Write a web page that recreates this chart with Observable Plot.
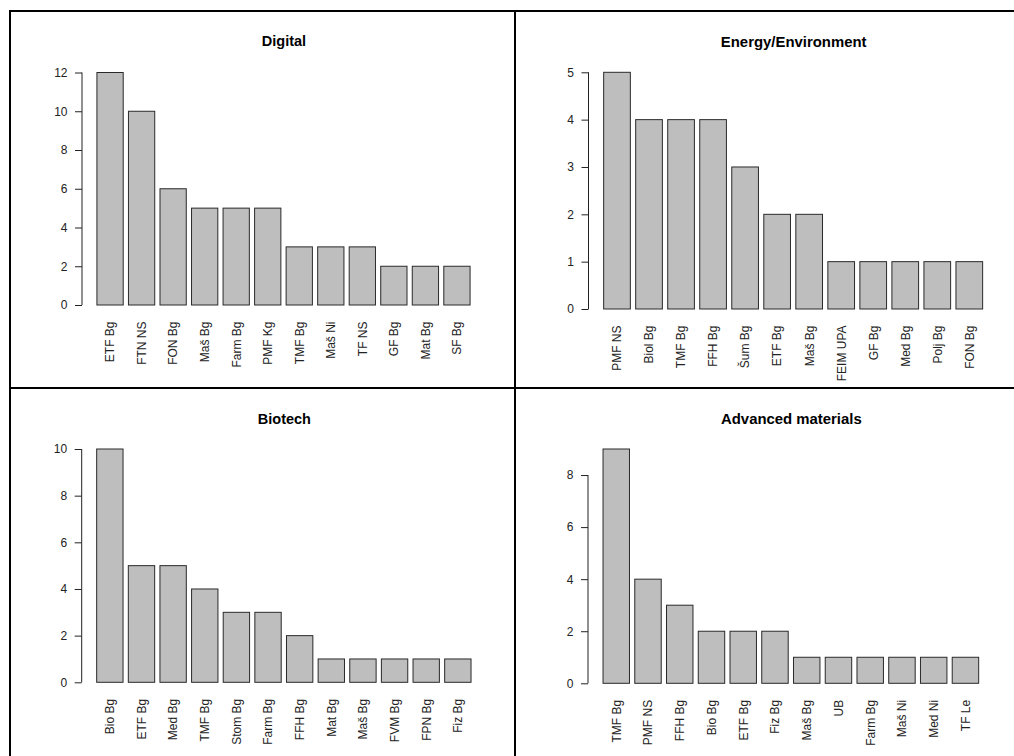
<!DOCTYPE html>
<html>
<head>
<meta charset="utf-8">
<script src="https://cdn.jsdelivr.net/npm/d3@7"></script>
<script src="https://cdn.jsdelivr.net/npm/@observablehq/plot@0.6"></script>
<style>
  html, body { margin: 0; padding: 0; background: #fff; }
  #root { position: relative; width: 1014px; height: 756px; overflow: hidden; background: #fff; }
  .rule { position: absolute; background: #000; }
</style>
</head>
<body>
<div id="root"></div>
<script>
// ---- Data ----
const digitalCats = ["ETF Bg", "FTN NS", "FON Bg", "Maš Bg", "Farm Bg", "PMF Kg", "TMF Bg", "Maš Ni", "TF NS", "GF Bg", "Mat Bg", "SF Bg"];
const digitalValues = [12, 10, 6, 5, 5, 5, 3, 3, 3, 2, 2, 2];
const digitalTicks = [0, 2, 4, 6, 8, 10, 12];

const energyCats = ["PMF NS", "Biol Bg", "TMF Bg", "FFH Bg", "Šum Bg", "ETF Bg", "Maš Bg", "FEIM UPA", "GF Bg", "Med Bg", "Polj Bg", "FON Bg"];
const energyValues = [5, 4, 4, 4, 3, 2, 2, 1, 1, 1, 1, 1];
const energyTicks = [0, 1, 2, 3, 4, 5];

const biotechCats = ["Bio Bg", "ETF Bg", "Med Bg", "TMF Bg", "Stom Bg", "Farm Bg", "FFH Bg", "Mat Bg", "Maš Bg", "FVM Bg", "FPN Bg", "Fiz Bg"];
const biotechValues = [10, 5, 5, 4, 3, 3, 2, 1, 1, 1, 1, 1];
const biotechTicks = [0, 2, 4, 6, 8, 10];

const materialsCats = ["TMF Bg", "PMF NS", "FFH Bg", "Bio Bg", "ETF Bg", "Fiz Bg", "Maš Bg", "UB", "Farm Bg", "Maš Ni", "Med Ni", "TF Le"];
const materialsValues = [9, 4, 3, 2, 2, 2, 1, 1, 1, 1, 1, 1];
const materialsTicks = [0, 2, 4, 6, 8];

// ---- Layout ----
const root = document.getElementById("root");
const FONT = "'Liberation Sans', Arial, Helvetica, sans-serif";

function panel({title, cats, values, ticks, left, top, width, height, ml, mr, mt, mb, titleY, titleSize}) {
  const data = cats.map((c, i) => ({cat: c, value: values[i]}));
  const svg = Plot.plot({
    width, height,
    marginLeft: ml, marginRight: mr, marginTop: mt, marginBottom: mb,
    style: {fontFamily: FONT, background: "transparent", overflow: "visible", color: "#222"},
    x: {type: "band", domain: cats, paddingInner: 1 / 6, paddingOuter: 0.4733, align: 0.5, round: false, axis: null},
    y: {domain: [0, d3.max(values)], label: null},
    marks: [
      Plot.barY(data, {x: "cat", y: "value", fill: "#bebebe", stroke: "#2a2a2a", strokeWidth: 1}),
      Plot.axisY({ticks, tickSize: 7, tickPadding: 8, fontSize: 12, label: null, anchor: "left", tickFormat: d => String(d)}),
      Plot.text(cats, {x: d => d, frameAnchor: "bottom", rotate: -90, textAnchor: "end", lineAnchor: "middle", dy: 16, fontSize: 12, fill: "#222"}),
      Plot.text([title], {frameAnchor: "top", dy: titleY - (top + mt), lineAnchor: "middle", fontWeight: "bold", fontSize: titleSize, fill: "#000"})
    ]
  });
  const ys = svg.scale("y");
  d3.select(svg).append("line")
    .attr("x1", ml).attr("x2", ml)
    .attr("y1", ys.apply(ticks[0])).attr("y2", ys.apply(ticks[ticks.length - 1]))
    .attr("stroke", "#222").attr("stroke-width", 1);
  svg.style.position = "absolute";
  svg.style.left = left + "px";
  svg.style.top = top + "px";
  svg.style.overflow = "visible";
  root.appendChild(svg);
}

panel({title: "Digital", cats: digitalCats, values: digitalValues, ticks: digitalTicks,
  left: 10, top: 10, width: 505, height: 377, ml: 72, mr: 30, mt: 62.5, mb: 82, titleY: 41, titleSize: 14.5});
panel({title: "Energy/Environment", cats: energyCats, values: energyValues, ticks: energyTicks,
  left: 515, top: 10, width: 499, height: 377, ml: 73.5, mr: 16.2, mt: 62.3, mb: 78, titleY: 41.5, titleSize: 14.9});
panel({title: "Biotech", cats: biotechCats, values: biotechValues, ticks: biotechTicks,
  left: 10, top: 387, width: 505, height: 369, ml: 71.7, mr: 29, mt: 62, mb: 73.7, titleY: 418.5, titleSize: 14.5});
panel({title: "Advanced materials", cats: materialsCats, values: materialsValues, ticks: materialsTicks,
  left: 515, top: 387, width: 499, height: 369, ml: 73, mr: 20.3, mt: 62, mb: 72.7, titleY: 418.5, titleSize: 14.9});

// frame lines
function rule(l, t, w, h) {
  const d = document.createElement("div");
  d.className = "rule";
  Object.assign(d.style, {left: l + "px", top: t + "px", width: w + "px", height: h + "px"});
  root.appendChild(d);
}
rule(9, 10, 1005, 2);
rule(9, 10, 2, 746);
rule(514, 10, 2, 746);
rule(9, 387, 1005, 2);
</script>
</body>
</html>
